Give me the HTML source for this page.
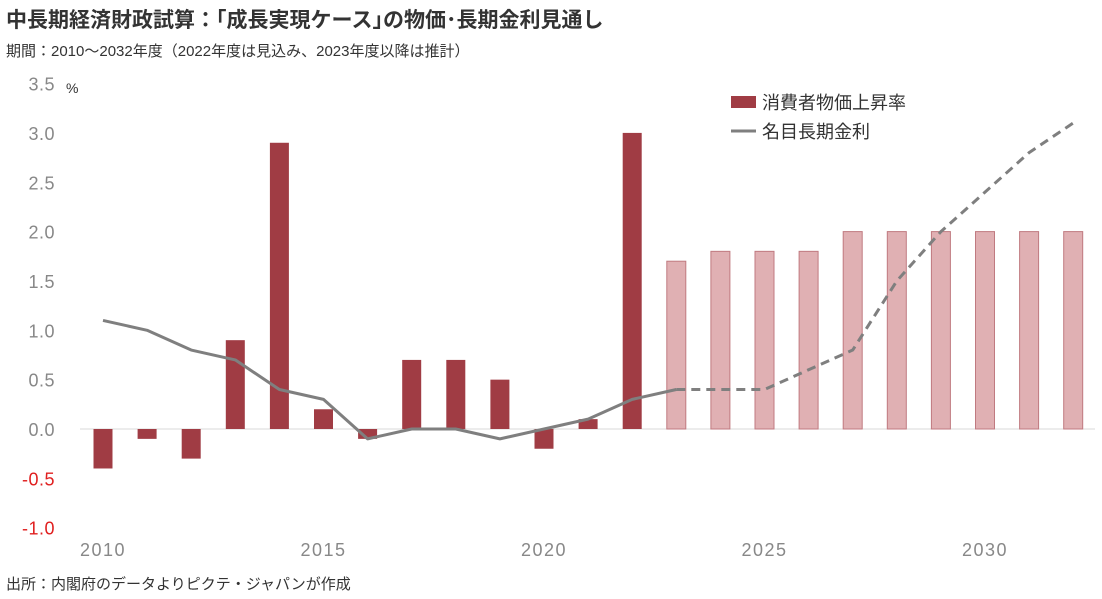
<!DOCTYPE html>
<html><head><meta charset="utf-8">
<style>
body{margin:0;background:#fff;width:1102px;height:599px;overflow:hidden;font-family:"Liberation Sans","Noto Sans CJK JP",sans-serif;}
.t{position:absolute;left:6px;top:4px;font-size:21px;font-weight:bold;color:#333;}
.s{position:absolute;left:6px;top:40px;font-size:15px;color:#333;}
.f{position:absolute;left:6px;top:573px;font-size:15px;color:#333;}
svg{position:absolute;left:0;top:0;}
</style></head><body>
<div class="t">中長期経済財政試算：｢成長実現ケース｣の物価･長期金利見通し</div>
<div class="s">期間：2010～2032年度（2022年度は見込み、2023年度以降は推計）</div>
<div class="f">出所：内閣府のデータよりピクテ・ジャパンが作成</div>
<svg id="c" width="1102" height="599"></svg>
<script>
const years=[2010,2011,2012,2013,2014,2015,2016,2017,2018,2019,2020,2021,2022,2023,2024,2025,2026,2027,2028,2029,2030,2031,2032];
const cpi=[-0.4,-0.1,-0.3,0.9,2.9,0.2,-0.1,0.7,0.7,0.5,-0.2,0.1,3.0,1.7,1.8,1.8,1.8,2.0,2.0,2.0,2.0,2.0,2.0];
const rate=[1.1,1.0,0.8,0.7,0.4,0.3,-0.1,0.0,0.0,-0.1,0.0,0.1,0.3,0.4,0.4,0.4,0.6,0.8,1.5,2.0,2.4,2.8,3.1];
const yTicks=[3.5,3.0,2.5,2.0,1.5,1.0,0.5,0.0,-0.5,-1.0];
const xTicks=[2010,2015,2020,2025,2030];
const forecastStart=2023;
const NS='http://www.w3.org/2000/svg';
const svg=document.getElementById('c');
const X=y=>103+(y-2010)*44.1;
const Y=v=>429-v*98.7;
function mk(t,a){const e=document.createElementNS(NS,t);for(const k in a)e.setAttribute(k,a[k]);svg.appendChild(e);return e;}
let e=mk('line',{x1:80,x2:1095,y1:Y(0),y2:Y(0),stroke:'#d9d9d9','stroke-width':1});


yTicks.forEach(v=>{const t=mk('text',{x:55,y:Y(v)+7,'text-anchor':'end','font-size':18,fill:v<0?'#e02020':'#888','letter-spacing':'0.5'});t.textContent=v.toFixed(1);

});
e=mk('text',{x:66,y:93,'font-size':14,fill:'#333'});e.textContent='%';


xTicks.forEach(v=>{const t=mk('text',{x:X(v),y:556,'text-anchor':'middle','font-size':18,fill:'#888','letter-spacing':'1.5'});t.textContent=v;

});
years.forEach((yr,i)=>{const v=cpi[i];const fc=yr>=forecastStart;
const r=mk('rect',{x:X(yr)-9.5,y:Math.min(Y(v),Y(0)),width:19,height:Math.abs(Y(v)-Y(0)),fill:fc?'#e0b0b3':'#a03c44',stroke:fc?'#c07a80':'none','stroke-width':1});

});
function pts(a,b){let s=[];years.forEach((yr,i)=>{if(yr>=a&&yr<=b)s.push(X(yr)+','+Y(rate[i]));});return s.join(' ');}
e=mk('polyline',{points:pts(2010,forecastStart),fill:'none',stroke:'#7f7f7f','stroke-width':3,'stroke-linejoin':'round'});


e=mk('polyline',{points:pts(forecastStart,2032),fill:'none',stroke:'#7f7f7f','stroke-width':3,'stroke-dasharray':'9,6','stroke-linejoin':'round'});


e=mk('rect',{x:731,y:96,width:25,height:12,fill:'#a03c44'});


e=mk('text',{x:762,y:109,'font-size':18,fill:'#333'});e.textContent='消費者物価上昇率';


e=mk('line',{x1:731,x2:756,y1:131,y2:131,stroke:'#7f7f7f','stroke-width':3});


e=mk('text',{x:762,y:138,'font-size':18,fill:'#333'});e.textContent='名目長期金利';


</script>
</body></html>
